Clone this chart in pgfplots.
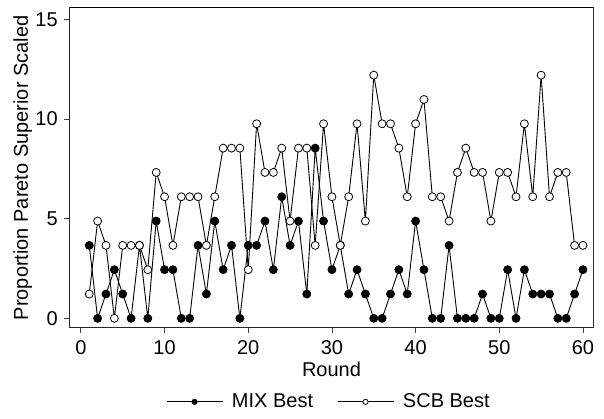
\documentclass[border=0pt]{standalone}
\usepackage{fontspec}
\setmainfont{Liberation Sans}
\usepackage{pgfplots}
\usepackage{pgfplotstable}
\pgfplotsset{compat=1.18}

\pgfplotstableread{
x y
1 3.66
2 0
3 1.22
4 2.44
5 1.22
6 0
7 3.66
8 0
9 4.88
10 2.44
11 2.44
12 0
13 0
14 3.66
15 1.22
16 4.88
17 2.44
18 3.66
19 0
20 3.66
21 3.66
22 4.88
23 2.44
24 6.10
25 3.66
26 4.88
27 1.22
28 8.54
29 4.88
30 2.44
31 3.66
32 1.22
33 2.44
34 1.22
35 0
36 0
37 1.22
38 2.44
39 1.22
40 4.88
41 2.44
42 0
43 0
44 3.66
45 0
46 0
47 0
48 1.22
49 0
50 0
51 2.44
52 0
53 2.44
54 1.22
55 1.22
56 1.22
57 0
58 0
59 1.22
60 2.44
}\mixdata

\pgfplotstableread{
x y
1 1.22
2 4.88
3 3.66
4 0
5 3.66
6 3.66
7 3.66
8 2.44
9 7.32
10 6.10
11 3.66
12 6.10
13 6.10
14 6.10
15 3.66
16 6.10
17 8.54
18 8.54
19 8.54
20 2.44
21 9.76
22 7.32
23 7.32
24 8.54
25 4.88
26 8.54
27 8.54
28 3.66
29 9.76
30 6.10
31 3.66
32 6.10
33 9.76
34 4.88
35 12.20
36 9.76
37 9.76
38 8.54
39 6.10
40 9.76
41 10.98
42 6.10
43 6.10
44 4.88
45 7.32
46 8.54
47 7.32
48 7.32
49 4.88
50 7.32
51 7.32
52 6.10
53 9.76
54 6.10
55 12.20
56 6.10
57 7.32
58 7.32
59 3.66
60 3.66
}\scbdata

\begin{document}
\fontsize{20bp}{24bp}\selectfont
\begin{tikzpicture}
\begin{axis}[name=ax, at={(0,0)}, anchor=south west,
  width=523bp, height=319.7bp, scale only axis,
  xmin=-1.3, xmax=61.2, ymin=-0.47, ymax=15.57,
  xtick={0,10,...,60}, ytick={0,5,10,15},
  tick align=outside, xtick pos=bottom, ytick pos=left,
  major tick length=5.5bp, minor tick num=0,
  tick style={line width=0.8bp, color=black!75},
  axis line style={line width=1bp, black!85},
  /pgf/number format/assume math mode=true,
  xlabel={Round}, ylabel={Proportion Pareto Superior Scaled},
  xlabel style={at={(axis description cs:0.5,-0.086)}, anchor=north},
  ylabel style={at={(axis description cs:-0.0597,0.5)}, anchor=south},
  legend style={at={(0.495,-0.232)}, anchor=center, draw=none, fill=none,
    legend columns=2, /tikz/every even column/.append style={column sep=22bp}},
  legend cell align=left,
]
\addplot[black, line width=0.9bp, mark=*, mark size=4bp,
  mark options={fill=black, line width=0.8bp},
  legend image code/.code={\draw[black,line width=0.9bp] (0bp,0bp) -- (56bp,0bp); \fill[black] (28bp,0bp) circle (2.6bp); \path (63bp,0bp);}]
  table[x=x,y=y] {\mixdata};
\addlegendentry{MIX Best}
\addplot[black, line width=0.9bp, mark=*, mark size=4bp,
  mark options={fill=white, draw=black, line width=0.8bp},
  legend image code/.code={\draw[black,line width=0.9bp] (0bp,0bp) -- (56bp,0bp); \filldraw[fill=white,draw=black,line width=0.8bp] (28bp,0bp) circle (2.6bp); \path (63bp,0bp);}]
  table[x=x,y=y] {\scbdata};
\addlegendentry{SCB Best}
\draw[black!55, line width=1bp] (rel axis cs:1,0) -- (rel axis cs:1,1);
\draw[black, line width=1bp] (rel axis cs:0,1) -- (rel axis cs:1,1);
\end{axis}
\path ([shift={(-70bp,-91.3bp)}]ax.south west) rectangle ([shift={(11bp,8bp)}]ax.north east);
\end{tikzpicture}
\end{document}
